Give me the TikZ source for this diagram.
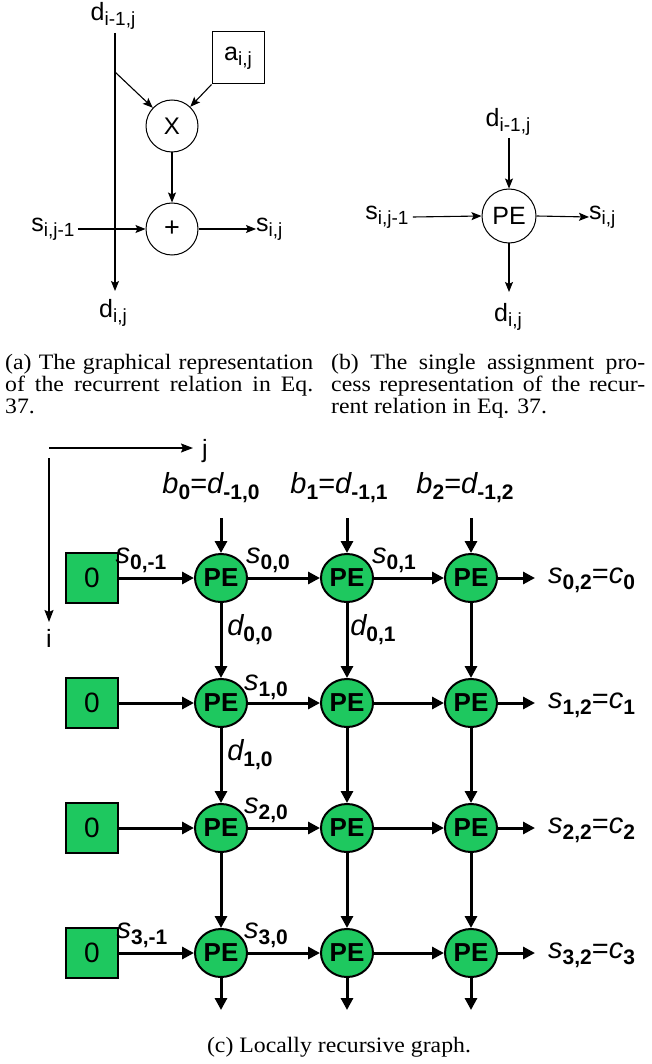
\documentclass[tikz,border=0pt]{standalone}
\usepackage{fontspec}
\setmainfont{Liberation Serif}[FakeStretch=1.08]
\newfontfamily\arial{Liberation Sans}
\usetikzlibrary{arrows.meta,shapes.geometric}
\definecolor{pegreen}{RGB}{30,200,95}
\newcommand\asub[1]{\raisebox{-5pt}{\fontsize{19}{19}\selectfont #1}}
\newcommand\csub[1]{\raisebox{-6pt}{\fontsize{21}{21}\selectfont\upshape\bfseries #1}}
\begin{document}
\begin{tikzpicture}[x=1pt,y=-1pt,
  thinarrow/.style={draw, line width=1.1pt, -{Stealth[length=10pt,width=8pt,inset=2pt]}},
  thickarrow/.style={draw, line width=3pt, -{Triangle[length=12pt,width=12pt]}},
  lab/.style={font=\arial\fontsize{25}{25}\selectfont, inner sep=0pt},
  op/.style={circle, draw, line width=1pt, minimum size=52pt, inner sep=0pt, font=\arial\fontsize{24}{24}\selectfont},
  pe/.style={ellipse, draw, line width=2pt, fill=pegreen, minimum width=52pt, minimum height=48pt, inner sep=0pt, font=\arial\bfseries\fontsize{26}{26}\selectfont},
  zero/.style={rectangle, draw, line width=2pt, fill=pegreen, minimum width=52pt, minimum height=50pt, inner sep=0pt, font=\arial\fontsize{28}{28}\selectfont},
  clab/.style={font=\arial\itshape\fontsize{29}{29}\selectfont, inner sep=0pt},
  captext/.style={font=\fontsize{22}{22}\selectfont, align=justify, inner sep=0pt, anchor=north west}
]
\useasboundingbox (0,0) rectangle (651,1064);

% ---------- panel (a) ----------
\node[lab] (dtopa) at (113,16) {d\asub{i-1,j}};
\node[lab] (dbota) at (113,313) {d\asub{i,j}};
\coordinate (va0) at (115,33);
\coordinate (va1) at (115,291);
\coordinate (br) at (115,72);
\node[draw, line width=1pt, minimum width=52pt, minimum height=52pt, inner sep=0pt, font=\arial\fontsize{25}{25}\selectfont] (abox) at (238,58) {a\asub{i,j}};
\node[op] (mul) at (172,126) {X};
\node[op, font=\arial\fontsize{27}{27}\selectfont] (add) at (172,229) {+};
\node[lab] (sina) at (53,229) {s\asub{i,j-1}};
\node[lab, anchor=west] (souta) at (256,229) {s\asub{i,j}};
\draw[thinarrow] (va0) -- (va1);
\draw[thinarrow] (br) -- (mul);
\draw[thinarrow] (abox.south west) -- (mul);
\draw[thinarrow] (mul) -- (add);
\draw[thinarrow] (sina.east) ++(3,0) -- (add.west);
\draw[thinarrow] (add.east) -- (souta.west);

% ---------- panel (b) ----------
\node[op, minimum size=54pt, font=\arial\fontsize{25}{25}\selectfont] (peb) at (509,216) {PE};
\node[lab] (dtopb) at (508,122) {d\asub{i-1,j}};
\node[lab] (dbotb) at (508,317) {d\asub{i,j}};
\node[lab] (sinb) at (387,217) {s\asub{i,j-1}};
\node[lab, anchor=west] (soutb) at (589,217) {s\asub{i,j}};
\coordinate (vb0) at (509,138);
\coordinate (vb1) at (509,292);
\draw[thinarrow] (vb0) -- (peb);
\draw[thinarrow] (peb) -- (vb1);
\draw[thinarrow] (sinb.east) ++(4,0) -- (peb.west);
\draw[thinarrow] (peb.east) -- (soutb.west);

% ---------- captions ----------
\node[captext, text width=308pt] (capa) at (5,354) {(a) The graphical representation\linebreak of the recurrent relation in Eq.\linebreak 37.};
\node[captext, text width=314pt] (capb) at (331,354) {(b) The single assignment pro-\linebreak cess representation of the recur-\linebreak rent relation in Eq. 37.};

% ---------- panel (c) ----------
\coordinate (ax) at (49,448);
\coordinate (axj) at (193,448);
\coordinate (axi0) at (49,458);
\coordinate (axi) at (49,622);
\node[lab] (jl) at (205,451) {j};
\node[lab] (il) at (49,638) {i};
\draw[line width=1.5pt, -{Stealth[length=12pt,width=9pt,inset=2pt]}] (ax) -- (axj);
\draw[line width=1.5pt, -{Stealth[length=12pt,width=9pt,inset=2pt]}] (axi0) -- (axi);

\node[clab] (b0) at (211,488) {b\csub{0}\upshape=\itshape d\csub{-1,0}};
\node[clab] (b1) at (339,488) {b\csub{1}\upshape=\itshape d\csub{-1,1}};
\node[clab] (b2) at (465,488) {b\csub{2}\upshape=\itshape d\csub{-1,2}};

\foreach \r/\yy in {0/578,1/703,2/828,3/953}{
  \node[zero] (z\r) at (92,\yy) {0};
  \node[pe] (p\r0) at (221,\yy) {PE};
  \node[pe] (p\r1) at (347,\yy) {PE};
  \node[pe] (p\r2) at (471,\yy) {PE};
  \node[clab, anchor=west] (o\r) at (548,\yy+2) {s\csub{\r,2}\upshape=\itshape c\csub{\r}};
  \draw[thickarrow] (z\r.east) -- (p\r0.west);
  \draw[thickarrow] (p\r0.east) -- (p\r1.west);
  \draw[thickarrow] (p\r1.east) -- (p\r2.west);
  \draw[thickarrow, shorten >=13pt] (p\r2.east) -- (p\r2.east -| o\r.west);
}
\foreach \c/\xx in {0/221,1/347,2/471}{
  \coordinate (top\c) at (\xx,518);
  \coordinate (bot\c) at (\xx,1010);
  \draw[thickarrow] (top\c) -- (p0\c.north);
  \draw[thickarrow] (p0\c.south) -- (p1\c.north);
  \draw[thickarrow] (p1\c.south) -- (p2\c.north);
  \draw[thickarrow] (p2\c.south) -- (p3\c.north);
  \draw[thickarrow] (p3\c.south) -- (bot\c);
}
\node[clab] (s0m) at (141,560) {s\csub{0,-1}};
\node[clab] (s00) at (268,560) {s\csub{0,0}};
\node[clab] (s01) at (394,560) {s\csub{0,1}};
\node[clab] (d00) at (250,630) {d\csub{0,0}};
\node[clab] (d01) at (373,630) {d\csub{0,1}};
\node[clab] (s10) at (266,687) {s\csub{1,0}};
\node[clab] (d10) at (250,755) {d\csub{1,0}};
\node[clab] (s20) at (266,810) {s\csub{2,0}};
\node[clab] (s3m) at (142,935) {s\csub{3,-1}};
\node[clab] (s30) at (266,935) {s\csub{3,0}};

\node[font=\fontsize{22}{22}\selectfont, inner sep=0pt] (capc) at (339,1047) {(c) Locally recursive graph.};
\end{tikzpicture}
\end{document}
